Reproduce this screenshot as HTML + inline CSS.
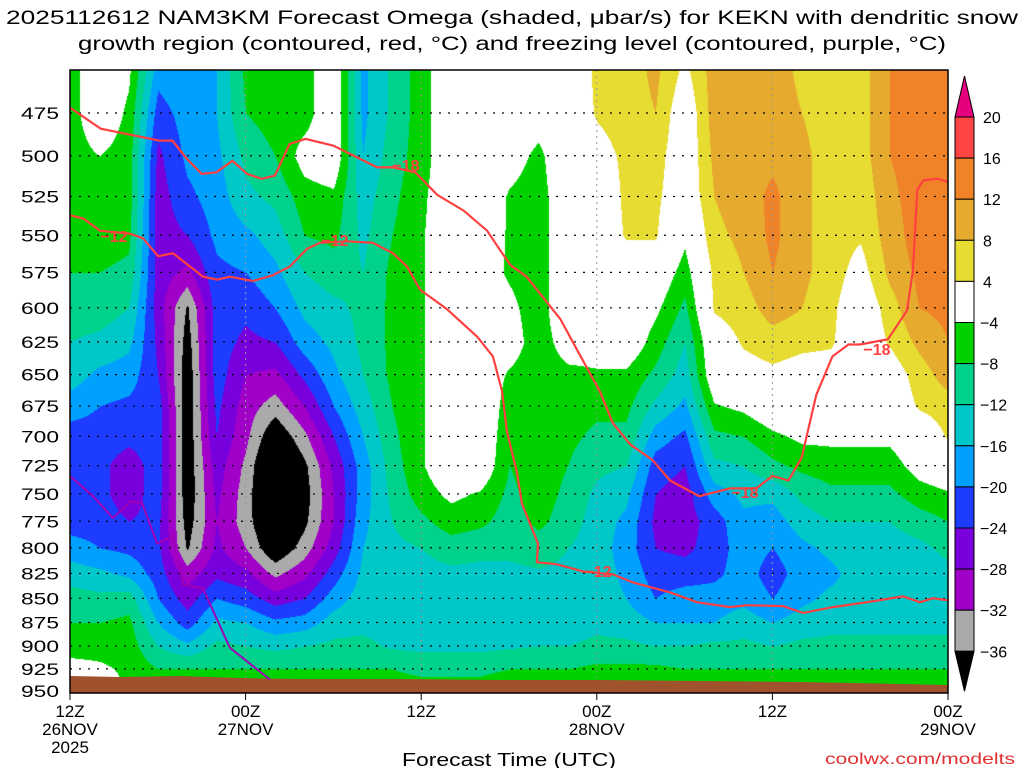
<!DOCTYPE html>
<html><head><meta charset="utf-8">
<style>
html,body{margin:0;padding:0;background:#fff;width:1024px;height:768px;overflow:hidden}
#wrap{position:relative;width:1024px;height:768px}
canvas{position:absolute;left:70px;top:70px}
svg{position:absolute;left:0;top:0}
text{font-family:"Liberation Sans",sans-serif}
</style></head>
<body>
<div id="wrap">
<canvas id="cv" width="878" height="623"></canvas>
<svg id="sv" width="1024" height="768">
<text x="512" y="24" text-anchor="middle" font-size="19" textLength="1012" lengthAdjust="spacingAndGlyphs">2025112612 NAM3KM Forecast Omega (shaded, μbar/s) for KEKN with dendritic snow</text>
<text x="512" y="50" text-anchor="middle" font-size="19" textLength="868" lengthAdjust="spacingAndGlyphs">growth region (contoured, red, °C) and freezing level (contoured, purple, °C)</text>
<text x="509" y="766" text-anchor="middle" font-size="18" textLength="214" lengthAdjust="spacingAndGlyphs">Forecast Time (UTC)</text>
<text x="1015" y="764" text-anchor="end" font-size="16" fill="#e03030" textLength="190" lengthAdjust="spacingAndGlyphs">coolwx.com/modelts</text>
<g id="grid"></g><g id="terrain"></g><g id="lines"></g><g id="axes"></g><g id="cbar"></g>
</svg>
</div>
<script>
const hours = [0,2,4,6,8,10,12,14,16,18,20,22,24,26,28,30,32,34,36,38,40,42,44,46,48,50,52,54,56,58,60];
const levels = [450,475,500,525,550,575,600,625,650,675,700,725,750,775,800,825,850,875,900,925,950];
const omegaByHour = [
[-6,-6,-6,-6,-8,-8,-10,-12,-14,-18,-22,-22,-22,-22,-18,-14,-10,-8,-6,-2,0],
[0,0,-4,-6,-6,-8,-10,-13,-17,-20,-22,-23,-23,-22,-20,-15,-11,-8,-6,-3,0],
[-3,-5,-6,-6,-7,-9,-12,-15,-18,-21,-23,-26,-26,-24,-21,-17,-10,-7,-6,-5,-5],
[-18,-22,-25,-26,-26,-26,-26,-25,-24,-22,-22,-22,-22,-23,-23,-22,-20,-16,-12,-8,-6],
[-16,-18,-19,-21,-24,-29,-36.5,-38,-39,-39,-39,-39,-39,-38,-36.5,-30,-26,-22,-15,-8,-6],
[-16,-16,-17,-18,-19,-21,-22,-22,-22,-23,-24,-26,-27,-28,-27,-25,-20,-15,-11,-8,-6],
[-7,-8,-11,-13,-17,-20,-23,-25,-28,-30,-31,-33,-34,-34,-32,-27,-22,-16,-12,-8,-6],
[-6,-6,-8,-11,-14,-17,-20,-24,-29,-34,-40,-44,-44,-43,-40,-33,-26,-19,-13,-8,-6],
[-6,-6,-2,-6,-8,-12,-15,-18,-23,-28,-33,-37,-38,-37,-34,-29,-24,-18,-12,-8,-6],
[0,0,0,-5,-7,-10,-13,-15,-17,-20,-24,-27,-28,-28,-26,-22,-18,-14,-11,-8,-6],
[-17,-17,-16,-14,-13,-12,-11,-11,-12,-14,-16,-18,-18,-17,-16,-15,-14,-13,-11,-8,-6],
[-11,-11,-10,-9,-8,-7,-7,-7,-7,-8,-9,-10,-11,-12,-13,-14,-14.5,-14,-12.5,-8,-6],
[-6,-6,-6,-5,-4.5,-4.5,-4.5,-4.5,-4.5,-4.5,-4.5,-4.5,-6,-9,-12,-13.5,-14,-14,-13,-9,-6],
[0,0,0,0,0,0,0,0,0,0,0,0,-3,-6,-10,-13,-14,-14,-13,-9,-6],
[0,0,0,0,-1,-2,-2,-2,-1,0,0,0,-4.5,-7,-11,-13,-14,-14,-13,-9,-6],
[0,0,-2,-4.5,-4.5,-4.5,-3,-2,-4.5,-6,-7,-8,-9,-10,-11,-13,-14,-14,-12.5,-8,-5],
[0,-2,-5,-6,-6,-6,-6,-6,-6,-6,-6,-6,-6,-7,-10,-12.5,-13.5,-13.5,-12,-8,-5],
[0,0,0,0,0,0,0,-2,-5,-6,-7,-8,-9,-10,-12,-13,-14,-14,-12,-8,-5],
[5,4.5,2,0,0,0,0,-2,-4.5,-7,-9,-11,-13,-14,-14,-14,-14,-13,-11,-7,-5],
[6,6,5,5,4.5,0,0,0,-5,-7,-9,-12,-15,-17,-18,-17,-16,-14,-11,-7,-5],
[9,8,6,5,4.5,0,-3,-6,-9,-13,-18,-22,-24,-25,-24,-22,-20,-16,-12,-7,-5],
[3,0,0,0,-3,-6,-9,-12,-14,-17,-21,-24,-26,-26,-25,-22,-18,-16,-12,-8,-6],
[10,10,9,8,7,5,4.5,1,0,-4.5,-9,-13,-18,-22,-22,-21,-18,-16,-11,-8,-6],
[10,10,10,10,9,8,6,4.5,2,-3,-8,-12,-15,-17,-18,-18,-17,-14,-11,-8,-6],
[10,10,11,13,13,12,10,6,3,0,-5,-9,-15,-18,-20,-22,-20,-16,-12,-8,-6],
[7,8,9,9,9,9,8,5,2,0,-3,-7,-11,-14,-17,-18,-17,-14,-11,-8,-6],
[6,6,6,6,6,6,5,4.5,2,0,-3,-6,-9,-12,-15,-17,-15,-13,-11,-8,-6],
[6,6,6,5,4.5,2,0,0,0,0,-3,-6,-9,-12,-13,-14,-14,-13,-11,-8,-6],
[12,12,12,11,10,9,6,4.5,1,0,-3,-6,-9,-12,-14,-15,-14,-13,-11,-8,-6],
[14,14,14,14,14,13,12,9,6,4.5,0,-2,-6,-10,-13,-14,-14,-13,-11,-8,-6],
[15,15,14,14,14,14,13,12,10,6,4.5,0,-4.5,-8,-11,-13,-14,-13,-11,-8,-6]
];
const bandEdges = [20,16,12,8,4,-4,-8,-12,-16,-20,-24,-28,-32,-36];
const bandColors = ['#ff4444','#f08228','#e6aa2e','#e6dc32','#ffffff','#00d200','#00d28c','#00c8c8','#00a0ff','#1e3cff','#7800dc','#a000c8','#aaaaaa'];
const tickLevels = [475,500,525,550,575,600,625,650,675,700,725,750,775,800,825,850,875,900,925,950];
const timeTicks = [0,12,24,36,48,60];
const timeLabelsTop = ['12Z','00Z','12Z','00Z','12Z','00Z'];
const timeLabelsMid = ['26NOV','27NOV','','28NOV','','29NOV'];
const isoM18Hours = [0,2.1,6.1,7,8,9,10,11.1,12.1,13.1,14,15,16.1,18,21,22.1,23.6,25.1,26.9,28.5,29.4,30.1,31.2,33.5,34.7,36.2,37.1,38.3,39.8,41,43,45.1,46.9,48,49.1,50,51,52.1,53.2,54,55.9,57.2,57.6,57.9,58.3,59.3,60];
const isoM18Press = [472,484,491,491,502,511,510,503,511,514,512,493,490,494,507,507,510,524,534,547,560,570,578,608,632,663,689,707,720,738,752,745,745,734,738,718,666,636,627,627,623,602,574,521,515,514,516];
const isoM12Hours = [0,0.89,2.05,4.1,4.99,6.02,7.04,8.2,9.09,10.05,10.93,12.5,13.87,15.03,16.2,17.08,18.93,20.71,22.07,23.03,23.92,25.76,27.81,28.9,29.52,29.86,30.54,30.89,31.98,31.91,33.27,35.05,37.11,38.48,41,42.85,45.1,46.26,48.72,50.09,52.14,54.46,56.92,58.08,58.97,60];
const isoM12Press = [537,539,547,549,552,564,562,571,578,580,578,581,577,571,559,555,554,555,562,571,587,601,621,636,663,696,731,759,796,814,816,823,826,834,844,854,859,857,858,865,859,854,848,854,850,852];
const freezeHours = [0,1.57,2.94,4.1,4.92,5.95,7.04,7.72,9.09,10.93,13.67];
const freezePress = [734,752,772,757,758,796,789,836,840,902,937];

const X0=70, X1=948, PX_PER_H=(X1-X0)/60;
function xOf(h){return X0+h*PX_PER_H;}
function yOf(p){return 113+834*Math.log(p/475);}
function colorOf(v){
  if(v>=20) return '#e6007e';
  if(v<-36) return '#000000';
  for(let i=0;i<bandEdges.length-1;i++){ if(v>=bandEdges[i+1]) return bandColors[i]; }
  return '#000000';
}
function hex(c){return [parseInt(c.substr(1,2),16),parseInt(c.substr(3,2),16),parseInt(c.substr(5,2),16)];}

(function(){
  const cv=document.getElementById('cv'), ctx=cv.getContext('2d');
  const W=cv.width,H=cv.height, img=ctx.createImageData(W,H);
  const nH=hours.length, nL=levels.length, dh=hours[1]-hours[0], dp=levels[1]-levels[0];
  const cache={};
  for(let py=0;py<H;py++){
    const y=70+py, p=475*Math.exp((y-113)/834);
    let r=(p-levels[0])/dp; r=Math.max(0,Math.min(nL-1.0001,r));
    const r0=Math.floor(r), fr=r-r0;
    for(let px=0;px<W;px++){
      let c=(px/PX_PER_H-hours[0])/dh; c=Math.max(0,Math.min(nH-1.0001,c));
      const c0=Math.floor(c), fc=c-c0;
      const a=omegaByHour[c0][r0], b=omegaByHour[c0+1][r0], d=omegaByHour[c0][r0+1], e=omegaByHour[c0+1][r0+1];
      const v=(a*(1-fc)+b*fc)*(1-fr)+(d*(1-fc)+e*fc)*fr;
      const col=colorOf(v); const rgb=cache[col]||(cache[col]=hex(col));
      const k=(py*W+px)*4; img.data[k]=rgb[0];img.data[k+1]=rgb[1];img.data[k+2]=rgb[2];img.data[k+3]=255;
    }
  }
  ctx.putImageData(img,0,0);
})();

const NS='http://www.w3.org/2000/svg';
function mk(tag,attrs,parent){const e=document.createElementNS(NS,tag);for(const k in attrs)e.setAttribute(k,attrs[k]);parent.appendChild(e);return e;}

const terr=document.getElementById('terrain');
const ground=mk('polygon',{points:'70,676 120,677 180,676 240,678 300,679 400,679 500,680 600,680 700,681 800,682 900,684 948,685 948,693 70,693',fill:'#a0522d'},terr);



const grid=document.getElementById('grid');
tickLevels.forEach(p=>{
  const l=mk('line',{x1:X0,x2:X1,y1:yOf(p),y2:yOf(p),stroke:'#000','stroke-width':1.2,'stroke-dasharray':'2,7'},grid);
  
  
});
timeTicks.slice(1,-1).forEach(h=>{
  const l=mk('line',{x1:xOf(h),x2:xOf(h),y1:70,y2:693,stroke:'#999','stroke-width':1,'stroke-dasharray':'2,4'},grid);
  
  
});

const lines=document.getElementById('lines');
function pathOf(hs,ps){return hs.map((h,i)=>(i?'L':'M')+xOf(h).toFixed(1)+','+yOf(ps[i]).toFixed(1)).join(' ');}
const l18=mk('path',{d:pathOf(isoM18Hours,isoM18Press),fill:'none',stroke:'#ff4040','stroke-width':2.2},lines);


const l12=mk('path',{d:pathOf(isoM12Hours,isoM12Press),fill:'none',stroke:'#ff4040','stroke-width':2.2},lines);


const lfz=mk('path',{d:pathOf(freezeHours,freezePress),fill:'none',stroke:'#a000b4','stroke-width':2},lines);


[['−18',406,171],['−12',114,242],['−12',335,246],['−18',745,498],['−18',877,355],['−12',598,577]].forEach(t=>{
  const e=mk('text',{x:t[1],y:t[2],'text-anchor':'middle','font-size':16,'font-weight':'bold',fill:'#ff4040'},lines);
  e.textContent=t[0];
  
  
});

const axes=document.getElementById('axes');
const frame=mk('rect',{x:X0,y:70,width:X1-X0,height:623,fill:'none',stroke:'#000','stroke-width':1.5},axes);


tickLevels.forEach(p=>{
  const t=mk('text',{x:59,y:yOf(p)+6,'text-anchor':'end','font-size':17,textLength:38,lengthAdjust:'spacingAndGlyphs'},axes);
  t.textContent=p;
  
  
});
timeTicks.forEach((h,i)=>{
  const x=xOf(h);
  const tk=mk('line',{x1:x,x2:x,y1:693,y2:700,stroke:'#000','stroke-width':1},axes);
  
  
  const a=mk('text',{x:x,y:717,'text-anchor':'middle','font-size':17},axes);
  a.textContent=timeLabelsTop[i];
  
  
  if(timeLabelsMid[i]){
    const b=mk('text',{x:x,y:735,'text-anchor':'middle','font-size':17},axes);
    b.textContent=timeLabelsMid[i];
    
    
  }
});
const yr=mk('text',{x:xOf(0),y:753,'text-anchor':'middle','font-size':17},axes);
yr.textContent='2025';



const cb=document.getElementById('cbar');
const CBX=955, CBW=19, CBTOP=117, STEP=41.1;
const up=mk('polygon',{points:`${CBX},${CBTOP} ${CBX+CBW},${CBTOP} ${CBX+CBW/2},76`,fill:'#e6007e',stroke:'#000','stroke-width':1},cb);


bandColors.forEach((c,i)=>{
  const r=mk('rect',{x:CBX,y:CBTOP+i*STEP,width:CBW,height:STEP,fill:c,stroke:'#000','stroke-width':1},cb);
  
  
});
const yb=CBTOP+bandColors.length*STEP;
const dn=mk('polygon',{points:`${CBX},${yb} ${CBX+CBW},${yb} ${CBX+CBW/2},${yb+40}`,fill:'#000',stroke:'#000','stroke-width':1},cb);


bandEdges.forEach((v,i)=>{
  const t=mk('text',{x:v<0?980:983,y:CBTOP+i*STEP+6,'font-size':16},cb);
  t.textContent=v<0?'−'+(-v):String(v);
  
  
});
</script>
</body></html>
